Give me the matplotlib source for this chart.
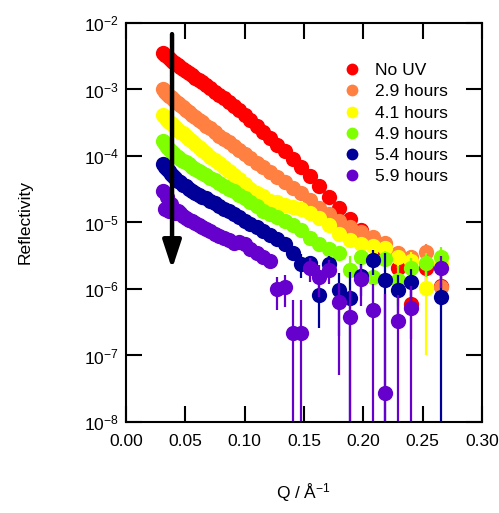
import matplotlib
matplotlib.use("Agg")
import matplotlib.pyplot as plt
from matplotlib.lines import Line2D
from matplotlib.ticker import FixedLocator, NullLocator, FormatStrFormatter
import numpy as np

plt.rcParams['font.family'] = ['Liberation Sans', 'DejaVu Sans']
plt.rcParams['mathtext.fontset'] = 'custom'
plt.rcParams['mathtext.rm'] = 'Liberation Sans'
plt.rcParams['mathtext.default'] = 'regular'

# Q values (1/A), shared by all series
q = [0.0310, 0.0326, 0.0342, 0.0359, 0.0377, 0.0396, 0.0415, 0.0436, 0.0458,
     0.0481, 0.0505, 0.0530, 0.0557, 0.0584, 0.0614, 0.0644, 0.0676, 0.0710,
     0.0746, 0.0783, 0.0822, 0.0864, 0.0907, 0.0952, 0.0999, 0.1049, 0.1102,
     0.1157, 0.1215, 0.1276, 0.1339, 0.1406, 0.1477, 0.1550, 0.1628, 0.1709,
     0.1795, 0.1885, 0.1979, 0.2078, 0.2182, 0.2291, 0.2405, 0.2526, 0.2652]

# reflectivity of each series (nan = point not shown)
nan = float('nan')
r_nouv = [3.55e-3, 3.31e-3, 3.16e-3, 3.02e-3, 2.82e-3, 2.63e-3, 2.51e-3, 2.34e-3, 2.19e-3,
          2.04e-3, 1.91e-3, 1.78e-3, 1.66e-3, 1.51e-3, 1.38e-3, 1.29e-3, 1.17e-3, 1.05e-3,
          9.3e-4, 8.3e-4, 7.4e-4, 6.5e-4, 5.6e-4, 4.9e-4, 4.2e-4, 3.5e-4, 2.8e-4,
          2.3e-4, 1.86e-4, 1.48e-4, 1.17e-4, 9.1e-5, 6.8e-5, 5.0e-5, 3.5e-5, 2.4e-5,
          1.66e-5, 1.12e-5, 7.6e-6, 5.2e-6, 3.6e-6, 2.1e-6, 6.0e-7, 2.1e-6, 1.1e-6]
r_29 = [1.0e-3, 9.3e-4, 8.7e-4, 8.1e-4, 7.6e-4, 7.1e-4, 6.6e-4, 6.2e-4, 5.8e-4,
        5.4e-4, 5.0e-4, 4.6e-4, 4.2e-4, 3.8e-4, 3.5e-4, 3.2e-4, 2.8e-4, 2.6e-4,
        2.3e-4, 2.0e-4, 1.8e-4, 1.6e-4, 1.41e-4, 1.23e-4, 1.07e-4, 9.3e-5, 7.9e-5,
        6.8e-5, 5.8e-5, 4.8e-5, 4.0e-5, 3.3e-5, 2.75e-5, 2.2e-5, 1.66e-5, 1.32e-5,
        1.05e-5, 8.7e-6, 7.2e-6, 6.0e-6, 4.9e-6, 3.5e-6, 3.0e-6, 3.6e-6, 1.07e-6]
r_41 = [4.2e-4, 3.8e-4, 3.5e-4, 3.3e-4, 3.1e-4, 2.9e-4, 2.7e-4, 2.5e-4, 2.3e-4,
        2.2e-4, 2.0e-4, 1.82e-4, 1.66e-4, 1.51e-4, 1.35e-4, 1.23e-4, 1.10e-4, 9.8e-5,
        8.7e-5, 7.8e-5, 6.8e-5, 5.9e-5, 5.1e-5, 4.5e-5, 3.8e-5, 3.2e-5, 2.8e-5,
        2.5e-5, 2.1e-5, 2.0e-5, 1.82e-5, 1.7e-5, 1.58e-5, 1.38e-5, 1.15e-5, 9.3e-6,
        6.8e-6, 5.5e-6, 4.7e-6, 4.4e-6, 4.2e-6, 3.0e-6, 2.6e-6, 1.02e-6, 2.5e-6]
r_49 = [1.66e-4, 1.51e-4, 1.38e-4, 1.29e-4, 1.20e-4, 1.12e-4, 1.05e-4, 9.8e-5, 9.1e-5,
        8.5e-5, 8.1e-5, 7.6e-5, 6.9e-5, 6.3e-5, 5.9e-5, 5.5e-5, 5.1e-5, 4.7e-5,
        4.3e-5, 3.9e-5, 3.5e-5, 3.2e-5, 2.95e-5, 2.6e-5, 2.3e-5, 2.0e-5, 1.74e-5,
        1.51e-5, 1.35e-5, 1.2e-5, 1.07e-5, 9.1e-6, 7.6e-6, 5.8e-6, 4.7e-6, 4.0e-6,
        3.5e-6, 1.95e-6, 3.0e-6, 1.51e-6, 2.8e-6, 1.38e-6, 2.1e-6, 2.5e-6, 3.0e-6]
r_54 = [7.6e-5, 6.9e-5, 6.3e-5, 5.9e-5, 5.4e-5, 5.0e-5, 4.6e-5, 4.2e-5, 4.0e-5,
        3.7e-5, 3.5e-5, 3.2e-5, 2.95e-5, 2.75e-5, 2.6e-5, 2.4e-5, 2.3e-5, 2.1e-5,
        1.95e-5, 1.78e-5, 1.62e-5, 1.48e-5, 1.35e-5, 1.2e-5, 1.07e-5, 9.5e-6, 8.5e-6,
        7.4e-6, 6.5e-6, 5.6e-6, 4.7e-6, 3.5e-6, 2.4e-6, 2.5e-6, 8.1e-7, 2.4e-6,
        9.8e-7, 7.2e-7, 1.58e-6, 2.75e-6, 1.38e-6, 9.5e-7, 1.26e-6, nan, 7.6e-7]
r_59 = [3.0e-5, 1.58e-5, 2.4e-5, 1.51e-5, 1.9e-5, 1.58e-5, 1.41e-5, 1.51e-5, 1.38e-5,
        1.26e-5, 1.17e-5, 1.10e-5, 1.05e-5, 9.8e-6, 9.1e-6, 8.5e-6, 7.9e-6, 7.4e-6,
        6.8e-6, 6.3e-6, 5.8e-6, 5.4e-6, 5.0e-6, 5.1e-6, 4.7e-6, 4.0e-6, 3.5e-6,
        3.0e-6, 2.6e-6, 1.0e-6, 1.07e-6, 2.2e-7, 2.2e-7, 2.1e-6, 1.51e-6, 1.95e-6,
        6.3e-7, 3.8e-7, 1.41e-6, 4.8e-7, 2.75e-8, 3.3e-7, 5.1e-7, nan, 2.1e-6]

# relative errors for the high-Q points (q[28:] onward); low-Q errors are too small to see
tail = 28
e_nouv = [0.02, 0.02, 0.03, 0.03, 0.04, 0.05, 0.06, 0.07, 0.08, 0.10, 0.12, 0.15, 0.30, 0.40, 0.70, 0.40, 0.50]
e_29 = [0.02, 0.02, 0.03, 0.03, 0.04, 0.04, 0.05, 0.06, 0.07, 0.08, 0.10, 0.12, 0.15, 0.20, 0.30, 0.30, 0.50]
e_41 = [0.02, 0.03, 0.03, 0.04, 0.05, 0.06, 0.07, 0.08, 0.10, 0.12, 0.15, 0.20, 0.25, 0.30, 0.40, 0.90, 0.50]
e_49 = [0.04, 0.05, 0.06, 0.07, 0.08, 0.10, 0.12, 0.15, 0.20, 0.60, 0.30, 0.60, 0.35, 0.60, 0.40, 0.40, 0.45]
e_54 = [0.08, 0.10, 0.12, 0.15, 0.40, 0.25, 0.68, 0.30, 0.80, 1.50, 0.50, 0.40, 1.50, 0.70, 0.60, 0.70, 2.30]
e_59 = [0.15, 0.52, 0.50, 2.10, 2.10, 0.40, 0.50, 0.40, 0.92, 1.50, 0.60, 1.50, 30.0, 1.50, 1.20, 0.60, 0.50]

labels = ["No UV", "2.9 hours", "4.1 hours", "4.9 hours", "5.4 hours", "5.9 hours"]
colors = ["#FF0000", "#FF8040", "#FFFF00", "#80FF00", "#000099", "#6600CC"]
series = [r_nouv, r_29, r_41, r_49, r_54, r_59]
errors = [e_nouv, e_29, e_41, e_49, e_54, e_59]

fig = plt.figure(figsize=(4.99, 5.13), dpi=100)
ax = fig.add_axes([0.2525, 0.1774, 0.7134, 0.7778])

q_arr = np.array(q)
for r, e, c in zip(series, errors, colors):
    r = np.array(r)
    err = np.array(e) * r[tail:]
    ax.errorbar(q_arr[tail:], r[tail:], yerr=err, fmt='none', ecolor=c,
                elinewidth=1.6, capsize=0, zorder=2)
    ax.plot(q_arr, r, 'o', color=c, ms=11, mec='none', zorder=2)

# arrow showing decreasing reflectivity with UV time
ax.annotate('', xy=(0.0388, 2.0e-6), xytext=(0.0388, 6.8e-3),
            arrowprops=dict(arrowstyle='-|>,head_length=0.85,head_width=0.28',
                            mutation_scale=20, lw=3.2, color='black',
                            shrinkA=0, shrinkB=0), zorder=5)

ax.set_yscale('log')
ax.set_xlim(0, 0.30)
ax.set_ylim(1e-8, 1e-2)
ax.xaxis.set_major_locator(FixedLocator([0, 0.05, 0.10, 0.15, 0.20, 0.25, 0.30]))
ax.xaxis.set_major_formatter(FormatStrFormatter('%.2f'))
ax.yaxis.set_minor_locator(NullLocator())
ax.tick_params(which='major', direction='in', length=11.5, width=1.5,
               top=True, right=True, labelsize=12.5)
ax.tick_params(axis='x', pad=9)
ax.tick_params(axis='y', pad=5)
for s in ax.spines.values():
    s.set_linewidth(1.5)

ax.set_xlabel('Q / Å$^{-1}$', fontsize=12.5)
ax.set_ylabel('Reflectivity', fontsize=12.5)
ax.xaxis.set_label_coords(0.5, -0.15)
ax.yaxis.set_label_coords(-0.262, 0.5)

handles = [Line2D([], [], ls='none', marker='o', color=c, ms=8.5, mec='none') for c in colors]
ax.legend(handles, labels, loc='upper left', bbox_to_anchor=(0.688, 0.877),
          bbox_transform=fig.transFigure, frameon=False, fontsize=12.5,
          handlelength=1.0, handletextpad=0.8, labelspacing=0.35, borderpad=0,
          borderaxespad=0)

fig.savefig('out.png', dpi=100)
